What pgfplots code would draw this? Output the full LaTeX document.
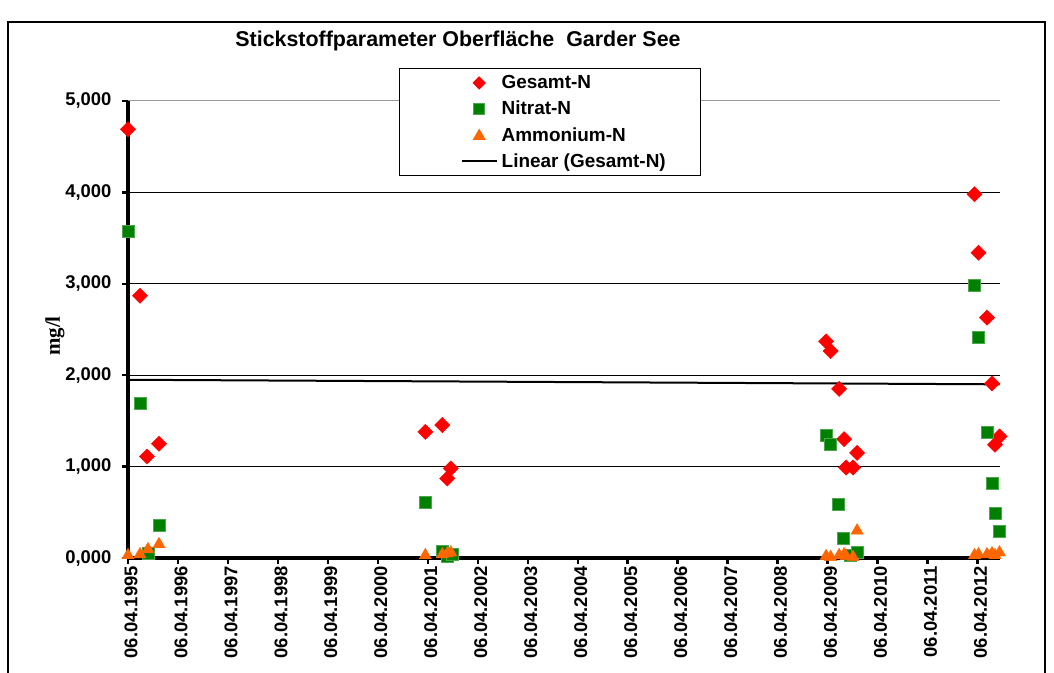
\documentclass[border=0pt]{standalone}
\usepackage{fontspec}
\setmainfont{Liberation Sans}
\newfontfamily\serifb{Liberation Serif}
\usepackage{pgfplots}
\pgfplotsset{compat=1.18}
\definecolor{gred}{RGB}{255,0,0}
\definecolor{ggreen}{RGB}{0,128,0}
\definecolor{gorange}{RGB}{255,102,0}
\begin{document}
\begin{tikzpicture}[x=1bp,y=1bp]
\useasboundingbox (0,0) rectangle (1054,673);
\clip (0,0) rectangle (1054,673);
\draw[line width=1.3bp] (8,-10) -- (8,651) -- (1045,651) -- (1045,-10);
\node[font=\fontsize{21.5}{25}\selectfont\bfseries] at (458,632) {Stickstoffparameter Oberfläche\ \ Garder See};
\node[font=\fontsize{21}{25}\selectfont\serifb\bfseries, rotate=90] at (55,337) {mg/l};
\begin{axis}[
  at={(128bp,115bp)}, anchor=south west,
  scale only axis, width=872bp, height=457bp,
  xmin=0, xmax=17.45, ymin=0, ymax=5,
  clip=false,
  axis x line*=bottom, axis y line*=left,
  axis line style={line width=3.5bp, black},
  tick align=outside, major tick length=6bp,
  tick style={line width=2.5bp, black},
  xtick={0,1,...,17},
  xticklabels={06.04.1995,06.04.1996,06.04.1997,06.04.1998,06.04.1999,06.04.2000,06.04.2001,06.04.2002,06.04.2003,06.04.2004,06.04.2005,06.04.2006,06.04.2007,06.04.2008,06.04.2009,06.04.2010,06.04.2011,06.04.2012},
  xticklabel style={rotate=90, anchor=east, font=\fontsize{18.5}{22}\selectfont\bfseries, inner sep=2bp, yshift=-3bp},
  ytick={0,1,2,3,4},
  extra y ticks={5},
  extra y tick style={grid style={black!40, line width=1bp}},
  ymajorgrids, grid style={black, line width=1bp},
  yticklabel style={font=\fontsize{18.5}{22}\selectfont\bfseries, /pgf/number format/assume math mode=true, xshift=-7bp},
  /pgf/number format/.cd, fixed, fixed zerofill, precision=3, use comma,
  /pgfplots/.cd,
  legend style={at={(0.311,1.072)}, anchor=north west, draw=black, line width=1bp, fill=white,
    font=\fontsize{19}{22}\selectfont\bfseries, inner xsep=33bp, inner ysep=5bp, row sep=7bp,
    cells={anchor=west}},
  legend cell align=left,
]
\addplot[only marks, mark=square*, mark size=5.4bp, mark options={rotate=45, fill=gred, draw=gred},
  legend image code/.code={\path (0bp,0bp) (65bp,0bp); \draw[mark repeat=2,mark phase=2,mark size=4.2bp] plot coordinates {(28bp,0bp) (45.5bp,0bp) (63bp,0bp)};}]
coordinates {
(0,4.69) (0.24,2.87) (0.38,1.11) (0.62,1.25)
(5.95,1.38) (6.29,1.455) (6.46,0.98) (6.39,0.87)
(13.97,2.37) (14.06,2.265) (14.23,1.85) (14.33,1.30) (14.59,1.15) (14.37,0.99) (14.51,0.99)
(16.94,3.98) (17.02,3.34) (17.19,2.63) (17.29,1.91) (17.44,1.33) (17.35,1.24)
};
\addlegendentry{Gesamt-N}
\addplot[only marks, mark=square*, mark size=6bp, mark options={fill=ggreen, draw=ggreen!70!white},
  legend image code/.code={\path (0bp,0bp) (65bp,0bp); \draw[mark repeat=2,mark phase=2,mark size=5.5bp] plot coordinates {(28bp,0bp) (45.5bp,0bp) (63bp,0bp)};}]
coordinates {
(0,3.58) (0.24,1.69) (0.40,0.05) (0.62,0.36)
(5.95,0.615) (6.29,0.07) (6.39,0.02) (6.49,0.04)
(13.97,1.345) (14.06,1.24) (14.22,0.59) (14.32,0.215) (14.46,0.03) (14.59,0.06)
(16.94,2.99) (17.02,2.42) (17.19,1.375) (17.29,0.82) (17.35,0.495) (17.44,0.295)
};
\addlegendentry{Nitrat-N}
\addplot[only marks, mark=triangle*, mark size=7bp, mark options={fill=gorange, draw=gorange},
  legend image code/.code={\path (0bp,0bp) (65bp,0bp); \draw[mark repeat=2,mark phase=2,mark size=6.5bp] plot coordinates {(28bp,-1bp) (45.5bp,-1bp) (63bp,-1bp)};}]
coordinates {
(0,0.03) (0.24,0.04) (0.40,0.095) (0.62,0.15)
(5.95,0.03) (6.29,0.04) (6.39,0.05) (6.46,0.06)
(13.97,0.02) (14.06,0.01) (14.23,0.03) (14.33,0.04) (14.37,0.02) (14.51,0.01) (14.59,0.30)
(16.94,0.03) (17.02,0.04) (17.19,0.04) (17.29,0.05) (17.35,0.03) (17.44,0.06)
};
\addlegendentry{Ammonium-N}
\addplot[black, line width=2bp, no marks,
  legend image code/.code={\path (0bp,0bp) (65bp,0bp); \draw[line width=2bp] (28bp,0bp) -- (63bp,0bp);}]
coordinates {(0,1.95) (17.44,1.90)};
\addlegendentry{Linear (Gesamt-N)}
\end{axis}
\end{tikzpicture}
\end{document}
